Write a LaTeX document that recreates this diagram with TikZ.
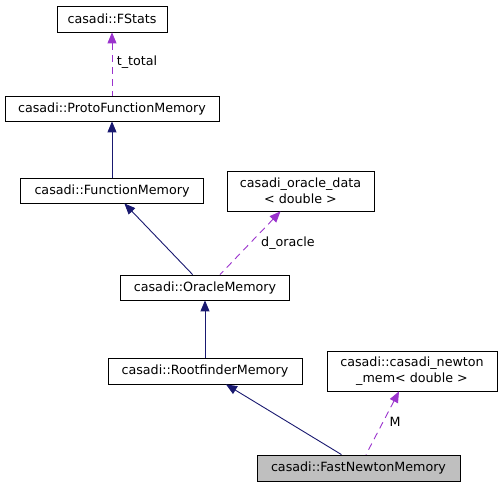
\documentclass[tikz,border=0pt]{standalone}
\usepackage{fontspec}
\setmainfont{DejaVu Sans}
\usetikzlibrary{arrows.meta,positioning,calc}
\definecolor{inhblue}{HTML}{191970}
\definecolor{usepurple}{HTML}{9A32CD}
\definecolor{focusgray}{HTML}{BFBFBF}
\tikzset{
    cls/.style={draw, thick, fill=white, inner sep=0pt, align=center,
        font=\fontsize{12.7}{15.5}\selectfont},
    inherit/.style={{Triangle[length=11pt,width=9pt]}-, inhblue, line width=0.9pt},
    member/.style={{Triangle[length=11pt,width=9pt]}-, usepurple, line width=0.9pt,
        dash pattern=on 7pt off 5pt},
    el/.style={font=\fontsize{12.7}{15.5}\selectfont, inner sep=1pt}
}

\begin{document}
\begin{tikzpicture}[x=1pt, y=-1pt]
    \useasboundingbox (0,0) rectangle (501,487);

    % Classes
    \node[cls, minimum width=110pt, minimum height=26pt] (fstats) at (112,19) {casadi::FStats};
    \node[cls, minimum width=214pt, minimum height=25pt] (protomem) at (112,108.5) {casadi::ProtoFunctionMemory};
    \node[cls, minimum width=183pt, minimum height=25pt] (funcmem) at (112,190.5) {casadi::FunctionMemory};
    \node[cls, minimum width=147pt, minimum height=40pt] (oracledata) at (300.5,191) {casadi\_oracle\_data\\< double >};
    \node[cls, minimum width=169pt, minimum height=25pt] (oraclemem) at (205,287.5) {casadi::OracleMemory};
    \node[cls, minimum width=194pt, minimum height=26pt] (rootmem) at (205,371) {casadi::RootfinderMemory};
    \node[cls, minimum width=170pt, minimum height=40pt] (newtonmem) at (412,371) {casadi::casadi\_newton\\\_mem< double >};
    \node[cls, fill=focusgray, minimum width=203pt, minimum height=26pt] (fastmem) at (358.5,468) {casadi::FastNewtonMemory};

    % Inheritance
    \draw[inherit] (protomem) -- (funcmem);
    \draw[inherit] (funcmem) -- (oraclemem);
    \draw[inherit] (oraclemem) -- (rootmem);
    \draw[inherit] ($(rootmem.south)+(21,0)$) -- ($(fastmem.north)+(-17,0)$);

    % Members
    \draw[member] (fstats) -- (protomem);
    \draw[member] ($(oracledata.south)+(-20,0)$) -- ($(oraclemem.north)+(15,0)$);
    \draw[member] ($(newtonmem.south)+(-13,0)$) -- ($(fastmem.north)+(7.5,0)$);

    % Member names
    \node[el] (ttotal) at (137,62) {t\_total};
    \node[el] (doracle) at (288,243) {d\_oracle};
    \node[el] (mlabel) at (395,422) {M};
\end{tikzpicture}
\end{document}
